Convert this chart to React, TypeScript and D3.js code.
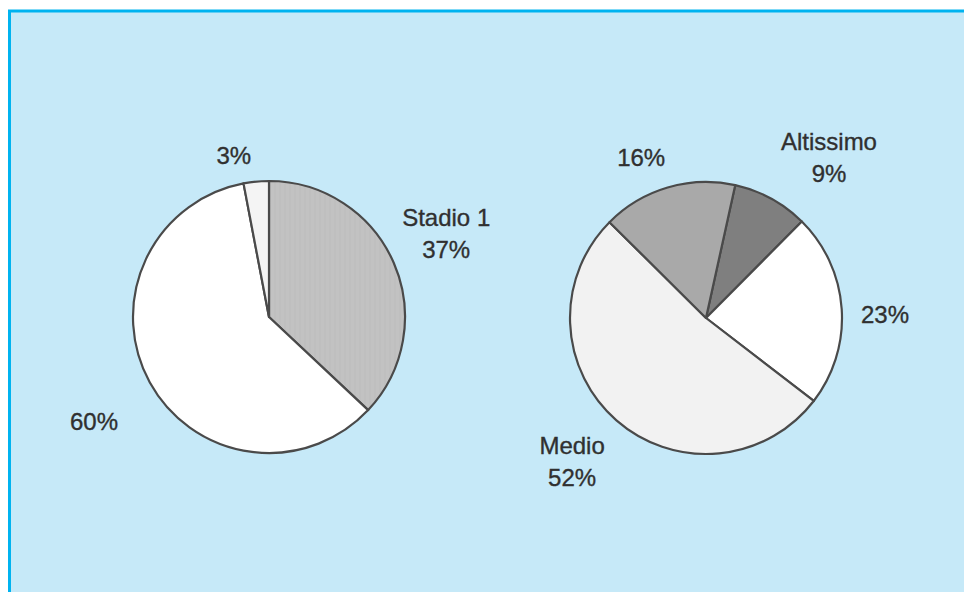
import React from "react";
import * as d3 from "d3";

// ---- data ----
const leftCategories = ["Stadio 1", "Altro", "Stadio 0"];
const leftValues = [37, 60, 3];
const leftShowName = [true, false, false];

const rightCategories = ["Altissimo", "Alto", "Medio", "Basso"];
const rightValues = [9, 23, 52, 16];
const rightShowName = [true, false, true, false];

// ---- layout / style ----
const W = 964;
const H = 592;
const R = 136;
const leftCenter = [269, 317];
const rightCenter = [706, 318];
const leftStartDeg = 0;
const rightStartDeg = 12.4;
const leftFills = ["url(#hatch)", "#ffffff", "#f4f4f4"];
const rightFills = ["#7f7f7f", "#ffffff", "#f2f2f2", "#a9a9a9"];
// label placement: angular nudge (deg) from slice middle and radial distance
const leftLabelNudge = [
  { da: -1.9, r: 196 },
  { da: -2.1, r: 204 },
  { da: -6.9, r: 165 },
];
const rightLabelNudge = [
  { da: 8.9, r: 202 },
  { da: 2.7, r: 179 },
  { da: 1.9, r: 196 },
  { da: -5.6, r: 173 },
];

const FONT = "'Liberation Sans', Arial, Helvetica, sans-serif";
const FS = 24;
const LINE = 32;

function Pie({ center, values, names, showName, fills, startDeg, nudges }) {
  const start = (startDeg * Math.PI) / 180;
  const pie = d3
    .pie<number>()
    .sort(null)
    .value((d) => d)
    .startAngle(start)
    .endAngle(start + 2 * Math.PI);
  const arcs = pie(values);
  const arc = d3.arc<any>().innerRadius(0).outerRadius(R);
  const total = d3.sum(values);
  const pct = d3.format(".0%");
  return (
    <g transform={`translate(${center[0]},${center[1]})`}>
      {arcs.map((a, i) => (
        <path
          key={i}
          d={arc(a) || ""}
          fill={fills[i]}
          stroke="#4a4a4a"
          strokeWidth={2.2}
          strokeLinejoin="round"
        />
      ))}
      {arcs.map((a, i) => {
        const mid = (a.startAngle + a.endAngle) / 2 + (nudges[i].da * Math.PI) / 180;
        const x = Math.sin(mid) * nudges[i].r;
        const y = -Math.cos(mid) * nudges[i].r;
        const lines = showName[i]
          ? [names[i], pct(values[i] / total)]
          : [pct(values[i] / total)];
        const base = y - ((lines.length - 1) * LINE) / 2 + FS * 0.36;
        return (
          <text
            key={"t" + i}
            x={x}
            y={base}
            textAnchor="middle"
            fontFamily={FONT}
            fontSize={FS}
            fill="#303030"
            stroke="#303030"
            strokeWidth={0.35}
          >
            {lines.map((l, j) => (
              <tspan key={j} x={x} y={base + j * LINE}>
                {l}
              </tspan>
            ))}
          </text>
        );
      })}
    </g>
  );
}

export default function App() {
  return (
    <svg
      width={W}
      height={H}
      style={{ position: "absolute", left: 0, top: 0, display: "block" }}
    >
      <defs>
        <pattern id="hatch" width="5" height="10" patternUnits="userSpaceOnUse">
          <rect width="5" height="10" fill="#c2c2c2" />
          <line x1="1" y1="0" x2="1" y2="10" stroke="#bcbcbc" strokeWidth="1" />
        </pattern>
      </defs>
      <rect x={0} y={0} width={W} height={H} fill="#ffffff" />
      <rect x={9.5} y={11} width={W + 10} height={H + 10} fill="#c6e9f8" stroke="#00b3f0" strokeWidth={3} />
      <Pie
        center={leftCenter}
        values={leftValues}
        names={leftCategories}
        showName={leftShowName}
        fills={leftFills}
        startDeg={leftStartDeg}
        nudges={leftLabelNudge}
      />
      <Pie
        center={rightCenter}
        values={rightValues}
        names={rightCategories}
        showName={rightShowName}
        fills={rightFills}
        startDeg={rightStartDeg}
        nudges={rightLabelNudge}
      />
    </svg>
  );
}
